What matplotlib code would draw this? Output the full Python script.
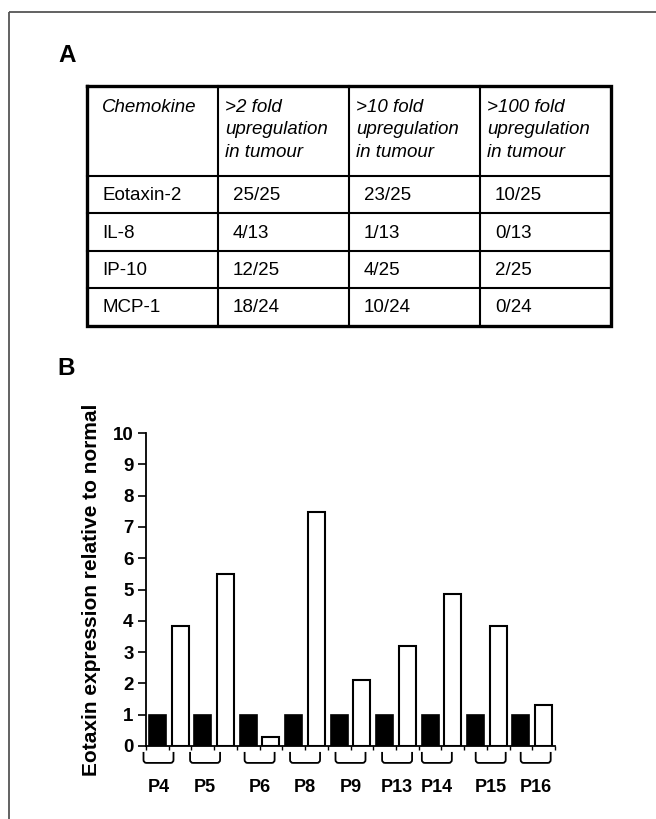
import numpy as np
import matplotlib
matplotlib.use("Agg")
import matplotlib.pyplot as plt
from matplotlib.path import Path
from matplotlib.patches import PathPatch

plt.rcParams['font.family'] = ['Liberation Sans', 'DejaVu Sans']

# Panel A table
col_headers = ["Chemokine", ">2 fold\nupregulation\nin tumour",
               ">10 fold\nupregulation\nin tumour", ">100 fold\nupregulation\nin tumour"]
chemokines = ["Eotaxin-2", "IL-8", "IP-10", "MCP-1"]
fold2 = ["25/25", "4/13", "12/25", "18/24"]
fold10 = ["23/25", "1/13", "4/25", "10/24"]
fold100 = ["10/25", "0/13", "2/25", "0/24"]

# Panel B bars
patients = ["P4", "P5", "P6", "P8", "P9", "P13", "P14", "P15", "P16"]
normal = [1, 1, 1, 1, 1, 1, 1, 1, 1]
tumour = [3.83, 5.48, 0.3, 7.48, 2.12, 3.2, 4.85, 3.82, 1.3]
label_shift = [-0.45, -0.4, 0.0, 0.0, 0.0, 0.05, -0.2, 0.17, 0.15]  # labels are a bit off in the original

W, H = 656, 819
fig = plt.figure(figsize=(W / 100, H / 100), dpi=100)

# overlay in pixel coords for frame, panel letters and table
ov = fig.add_axes([0, 0, 1, 1])
ov.set_xlim(0, W)
ov.set_ylim(H, 0)
ov.axis('off')

ov.plot([9, W], [12, 12], color='#555555', lw=1.3, solid_capstyle='butt')
ov.plot([9, 9], [12, H], color='#555555', lw=1.3, solid_capstyle='butt')

ov.text(58, 62, "A", fontsize=17.5, weight='bold', va='baseline')
ov.text(57, 375, "B", fontsize=17.5, weight='bold', va='baseline')

col_edges = [87, 218, 349, 480, 611]
row_edges = [86, 176, 213, 251, 288, 326]
for x in col_edges[1:-1]:
    ov.plot([x, x], [row_edges[0], row_edges[-1]], color='black', lw=1.5)
for y in row_edges[1:-1]:
    ov.plot([col_edges[0], col_edges[-1]], [y, y], color='black', lw=1.5)
ov.plot([col_edges[0], col_edges[-1], col_edges[-1], col_edges[0], col_edges[0]],
        [row_edges[0], row_edges[0], row_edges[-1], row_edges[-1], row_edges[0]],
        color='black', lw=2.4, solid_joinstyle='miter')

for j, head in enumerate(col_headers):
    pad = 15 if j == 0 else 7
    ov.text(col_edges[j] + pad, 99, head, fontsize=13.5, style='italic',
            va='top', ha='left', linespacing=1.42)

columns = [chemokines, fold2, fold10, fold100]
for j, col in enumerate(columns):
    for i, val in enumerate(col):
        yc = (row_edges[i + 1] + row_edges[i + 2]) / 2
        ov.text(col_edges[j] + 15, yc + 1, val, fontsize=13.5, va='center', ha='left')

# Panel B chart
ax = fig.add_axes([146 / W, 1 - 746 / H, 409 / W, 313 / H])
n = len(patients)
xb = np.arange(n) * 2
ax.bar(xb, normal, width=0.75, color='black', edgecolor='black', lw=1.2)
ax.bar(xb + 1, tumour, width=0.75, color='white', edgecolor='black', lw=1.5)

ax.set_xlim(-0.5, 2 * n - 0.5)
ax.set_ylim(0, 10)
ax.set_yticks(range(0, 11))
ax.set_xticks(np.arange(-0.5, 2 * n, 1))
ax.set_xticklabels([])
for s in ['top', 'right']:
    ax.spines[s].set_visible(False)
for s in ['left', 'bottom']:
    ax.spines[s].set_linewidth(1.3)
ax.tick_params(axis='y', length=6, width=1.2, pad=3, labelsize=13.5)
ax.tick_params(axis='x', length=3, width=1.0)
for t in ax.get_yticklabels():
    t.set_fontweight('bold')

ax.set_ylabel("Eotaxin expression relative to normal", fontsize=15, weight='bold')
ax.yaxis.set_label_coords(-0.11, 0.5)

# brackets and patient labels under each pair
top, bot, half, rx, ry = -0.19, -0.54, 0.66, 0.13, 0.1
for k, name in enumerate(patients):
    xc = 2 * k + 0.5 + label_shift[k]
    x0, x1 = xc - half, xc + half
    verts = [(x0, top), (x0, bot + ry), (x0, bot), (x0 + rx, bot),
             (x1 - rx, bot), (x1, bot), (x1, bot + ry), (x1, top)]
    codes = [Path.MOVETO, Path.LINETO, Path.CURVE3, Path.CURVE3,
             Path.LINETO, Path.CURVE3, Path.CURVE3, Path.LINETO]
    ax.add_patch(PathPatch(Path(verts, codes), fill=False, lw=1.3, clip_on=False))
    ax.text(xc, -1.31, name, fontsize=13, weight='bold', ha='center', va='center',
            clip_on=False)

fig.savefig("out.png", dpi=100)
